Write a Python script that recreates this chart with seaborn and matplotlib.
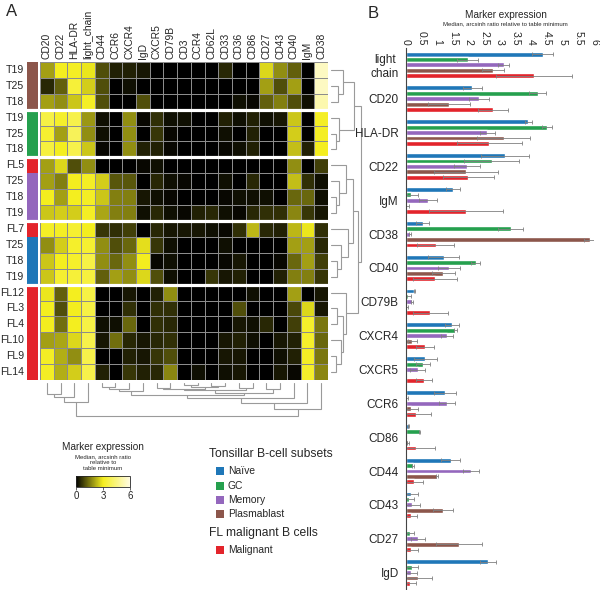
import numpy as np
import pandas as pd
import matplotlib
matplotlib.use("Agg")
import matplotlib.pyplot as plt
import seaborn as sns
from matplotlib.colors import LinearSegmentedColormap, ListedColormap
from matplotlib.patches import Rectangle

# ---------------- data ----------------
heat_markers = ["CD20", "CD22", "HLA-DR", "light_chain", "CD44", "CCR6", "CXCR4", "IgD",
                "CXCR5", "CD79B", "CD3", "CCR4", "CD62L", "CD33", "CD36", "CD86", "CD27",
                "CD43", "CD40", "IgM", "CD38"]
row_labels = ["T19", "T25", "T18", "T19", "T25", "T18", "FL5", "T25", "T18", "T19",
              "FL7", "T25", "T18", "T19", "FL12", "FL3", "FL4", "FL10", "FL9", "FL14"]
row_groups = ["Plasmablast"] * 3 + ["GC"] * 3 + ["Malignant"] + ["Memory"] * 3 + \
             ["Malignant"] + ["Naïve"] * 3 + ["Malignant"] * 6
group_breaks = [3, 6, 10, 14]

heat_values = [
    [2.0, 3.0, 3.1, 2.9, 1.0, 0.4, 0.4, 0.3, 0.0, 0.0, 0.0, 0.0, 0.0, 0.5, 0.0, 0.0, 2.7, 1.8, 1.2, 0.0, 5.5],
    [0.5, 1.2, 3.4, 2.6, 1.0, 0.0, 0.2, 0.0, 0.0, 0.0, 0.0, 0.0, 0.0, 0.0, 0.0, 0.0, 2.0, 1.0, 2.0, 0.0, 5.5],
    [2.0, 1.8, 2.5, 3.1, 1.0, 0.0, 0.0, 1.0, 0.0, 0.0, 0.0, 0.0, 0.0, 0.0, 0.2, 0.1, 1.2, 1.6, 1.0, 0.2, 5.2],
    [3.6, 3.2, 3.7, 1.9, 0.2, 0.0, 1.8, 0.1, 0.6, 0.2, 0.2, 0.0, 0.0, 0.4, 0.2, 0.4, 0.2, 0.3, 2.5, 0.0, 3.1],
    [3.3, 2.0, 3.9, 1.8, 0.2, 0.0, 1.8, 0.0, 0.7, 0.1, 0.0, 0.0, 0.0, 0.2, 0.0, 0.4, 0.0, 0.0, 2.6, 0.0, 3.1],
    [3.5, 3.0, 3.7, 2.5, 0.1, 0.0, 1.8, 0.4, 0.4, 0.1, 0.0, 0.0, 0.0, 0.1, 0.2, 0.4, 0.0, 0.0, 2.4, 0.4, 3.0],
    [2.0, 2.7, 1.0, 1.8, 0.0, 0.0, 0.0, 0.1, 0.2, 0.0, 0.0, 0.0, 0.0, 0.0, 0.0, 0.0, 0.0, 0.0, 1.8, 0.0, 0.8],
    [2.0, 1.6, 3.0, 3.1, 2.6, 1.1, 1.1, 0.0, 0.5, 0.2, 0.1, 0.0, 0.0, 0.2, 0.0, 0.5, 0.0, 0.0, 2.4, 0.6, 0.2],
    [3.0, 2.0, 3.0, 3.1, 2.5, 1.6, 1.6, 0.3, 0.2, 0.1, 0.0, 0.0, 0.0, 0.1, 0.2, 0.2, 0.2, 0.0, 1.3, 1.3, 0.2],
    [2.5, 2.6, 2.6, 3.1, 2.1, 1.6, 1.6, 0.2, 0.5, 0.2, 0.1, 0.4, 0.5, 0.2, 0.1, 0.5, 0.6, 0.6, 1.7, 0.7, 0.3],
    [3.1, 3.1, 3.3, 3.0, 0.7, 0.6, 0.8, 0.0, 0.5, 0.3, 0.3, 0.3, 0.2, 0.1, 0.6, 2.3, 0.5, 0.4, 2.3, 2.9, 0.6],
    [1.8, 2.6, 3.2, 3.3, 1.8, 1.0, 1.3, 2.8, 0.7, 0.2, 0.0, 0.0, 0.0, 0.2, 0.0, 0.0, 0.0, 0.0, 2.0, 2.0, 0.5],
    [2.5, 3.0, 3.2, 3.6, 1.8, 1.3, 1.8, 3.0, 0.1, 0.2, 0.0, 0.0, 0.0, 0.1, 0.3, 0.0, 0.0, 0.1, 1.3, 2.0, 0.8],
    [2.5, 3.3, 3.4, 3.5, 1.2, 2.0, 1.8, 2.7, 1.0, 0.2, 0.0, 0.0, 0.7, 0.3, 0.4, 0.0, 0.0, 0.4, 1.6, 1.6, 0.7],
    [2.9, 1.2, 3.0, 3.6, 0.0, 0.0, 0.3, 0.0, 0.4, 1.8, 0.0, 0.0, 0.0, 0.0, 0.0, 0.2, 0.0, 0.0, 2.0, 0.0, 0.3],
    [3.0, 1.0, 3.0, 3.6, 0.0, 0.0, 0.6, 0.0, 0.6, 0.6, 0.0, 0.0, 0.0, 0.0, 1.0, 0.0, 0.0, 0.0, 0.9, 2.7, 0.3],
    [3.0, 1.4, 3.0, 3.6, 0.2, 0.2, 1.3, 0.0, 0.6, 0.5, 0.0, 0.0, 0.0, 0.0, 0.3, 0.2, 0.5, 0.0, 0.8, 3.2, 1.5],
    [2.0, 2.1, 2.7, 3.7, 0.3, 1.4, 0.5, 0.3, 0.5, 0.6, 0.0, 0.0, 0.0, 0.3, 0.4, 0.2, 0.0, 0.3, 0.4, 3.2, 1.3],
    [3.1, 2.2, 1.8, 3.7, 0.0, 0.0, 0.4, 0.3, 0.7, 1.0, 0.0, 0.0, 0.0, 0.3, 0.3, 0.0, 0.0, 0.2, 0.4, 3.1, 1.5],
    [3.1, 2.2, 2.6, 3.7, 0.4, 0.0, 0.7, 0.4, 0.5, 1.7, 0.0, 0.2, 0.0, 0.2, 0.3, 0.0, 0.0, 0.3, 0.1, 3.2, 1.7],
]

# dendrogram merges (child a, child b, merge height); ids >= n are earlier merges
row_merges = [(1, 2, 7), (0, 20, 12), (4, 5, 5), (3, 22, 8), (21, 23, 23),
              (8, 9, 5), (7, 25, 8), (6, 26, 15), (12, 13, 6), (11, 28, 10),
              (10, 29, 17), (27, 30, 22), (18, 19, 5), (17, 32, 10), (15, 16, 6),
              (34, 33, 12), (14, 35, 15), (31, 36, 27), (24, 37, 30)]
col_merges = [(0, 1, 11), (21, 2, 14), (22, 3, 19), (10, 11, 2), (12, 13, 3),
              (24, 25, 4), (8, 9, 5), (27, 26, 6), (14, 15, 5), (28, 29, 7),
              (16, 17, 6), (30, 31, 10), (4, 5, 4), (33, 6, 6), (34, 7, 8),
              (35, 32, 12), (36, 18, 15), (37, 19, 20), (38, 20, 26), (23, 39, 33)]

bar_markers = ["light\nchain", "CD20", "HLA-DR", "CD22", "IgM", "CD38", "CD40", "CD79B",
               "CXCR4", "CXCR5", "CCR6", "CD86", "CD44", "CD43", "CD27", "IgD"]
subsets = ["Naïve", "GC", "Memory", "Plasmablast", "Malignant"]
naive_med = [4.36, 2.12, 3.90, 3.17, 1.50, 0.54, 1.21, 0.28, 1.48, 0.63, 1.24, 0.10, 1.43, 0.16, 0.01, 2.62]
gc_med = [1.97, 4.20, 4.49, 2.74, 0.17, 3.34, 2.23, 0.07, 1.58, 0.55, 0.04, 0.44, 0.24, 0.11, 0.13, 0.19]
memory_med = [3.12, 2.34, 2.60, 1.95, 0.70, 0.14, 1.37, 0.19, 1.31, 0.38, 1.31, 0.01, 2.09, 0.19, 0.40, 0.18]
plasma_med = [2.78, 1.38, 3.12, 1.92, 0.03, 5.87, 1.20, 0.03, 0.21, 0.00, 0.18, 0.08, 1.01, 1.18, 1.69, 0.39]
malig_med = [4.09, 2.78, 2.66, 2.00, 1.92, 0.96, 0.92, 0.79, 0.62, 0.58, 0.34, 0.33, 0.27, 0.16, 0.16, 0.15]
naive_err = [0.34, 0.30, 0.11, 0.77, 0.23, 0.20, 0.50, 0.03, 0.23, 0.37, 0.35, 0.02, 0.29, 0.23, 0.00, 0.25]
gc_err = [0.32, 0.26, 0.16, 0.88, 0.21, 0.39, 0.14, 0.10, 0.04, 0.22, 0.03, 0.03, 0.03, 0.16, 0.14, 0.20]
memory_err = [0.17, 0.32, 0.23, 0.41, 0.29, 0.03, 0.35, 0.03, 0.19, 0.23, 0.25, 0.01, 0.25, 0.27, 0.23, 0.17]
plasma_err = [0.34, 0.67, 0.85, 1.03, 0.09, 0.18, 0.36, 0.04, 0.14, 0.00, 0.21, 0.03, 0.03, 0.32, 0.73, 0.46]
malig_err = [1.20, 0.49, 1.03, 0.82, 1.19, 0.59, 0.70, 0.55, 0.29, 0.25, 0.48, 0.59, 0.29, 0.19, 0.22, 0.17]
bar_ticks = [0, 0.5, 1, 1.5, 2, 2.5, 3, 3.5, 4, 4.5, 5, 5.5, 6]

subset_colors = {"Naïve": "#1f77b8", "GC": "#25a04e", "Memory": "#9467bd",
                 "Plasmablast": "#8c564b", "Malignant": "#e3242b"}

# ---------------- style ----------------
sns.set_style("white")
plt.rcParams["font.family"] = ["Liberation Sans", "DejaVu Sans"]

W, H = 600, 590
fig = plt.figure(figsize=(6, 5.9), dpi=100)


def rect(l, t, r, b):
    return [l / W, 1 - b / H, (r - l) / W, (b - t) / H]


def fx(x):
    return x / W


def fy(y):
    return 1 - y / H


heat_cmap = LinearSegmentedColormap.from_list(
    "blk_yel", [(0, "#000000"), (0.5, "#f4ee1e"), (1.0, "#fffbe2")])

# ---------------- heatmap ----------------
ax_h = fig.add_axes(rect(40, 62, 328, 380))
heat_df = pd.DataFrame(heat_values, columns=heat_markers)
sns.heatmap(heat_df, ax=ax_h, cmap=heat_cmap, vmin=0, vmax=6, cbar=False,
            linewidths=0.4, linecolor="#8c8c8c", xticklabels=heat_markers, yticklabels=False)
ax_h.xaxis.tick_top()
ax_h.tick_params(axis="x", top=True, bottom=False, labeltop=True, labelbottom=False,
                 length=0, pad=2, labelsize=7.4, labelrotation=90)
for t in ax_h.get_xticklabels():
    t.set_va("bottom")
for b in group_breaks:
    ax_h.axhline(b, color="white", lw=2.3)

# row color bar
ax_r = fig.add_axes(rect(27, 62, 38, 380))
codes = [subsets.index(g) for g in row_groups]
sns.heatmap(pd.DataFrame({"g": codes}), ax=ax_r, cmap=ListedColormap([subset_colors[s] for s in subsets]),
            vmin=-0.5, vmax=4.5, cbar=False, xticklabels=False, yticklabels=row_labels)
ax_r.tick_params(axis="y", length=0, pad=2, labelsize=7.6, labelrotation=0)
for b in group_breaks:
    ax_r.axhline(b, color="white", lw=2.3)


# ---------------- dendrograms ----------------
def draw_dendro(ax, merges, n, horizontal):
    pos = {i: i + 0.5 for i in range(n)}
    hgt = {i: 0.0 for i in range(n)}
    for k, (a, b, h) in enumerate(merges):
        xs = [pos[a], pos[a], pos[b], pos[b]]
        hs = [hgt[a], h, h, hgt[b]]
        if horizontal:
            ax.plot(hs, xs, color="#9a9a9a", lw=0.8, solid_joinstyle="miter")
        else:
            ax.plot(xs, hs, color="#9a9a9a", lw=0.8, solid_joinstyle="miter")
        pos[n + k] = (pos[a] + pos[b]) / 2
        hgt[n + k] = h
    ax.axis("off")


ax_rd = fig.add_axes(rect(331, 62, 363, 380))
draw_dendro(ax_rd, row_merges, len(row_labels), True)
ax_rd.set_ylim(len(row_labels), 0)
ax_rd.set_xlim(0, 32)

ax_cd = fig.add_axes(rect(40, 383, 328, 418))
draw_dendro(ax_cd, col_merges, len(heat_markers), False)
ax_cd.set_xlim(0, len(heat_markers))
ax_cd.set_ylim(35, 0)

# ---------------- colour bar legend ----------------
ax_cb = fig.add_axes(rect(76, 476, 130, 487))
sm = plt.cm.ScalarMappable(cmap=heat_cmap, norm=plt.Normalize(0, 6))
cb = fig.colorbar(sm, cax=ax_cb, orientation="horizontal", ticks=[0, 3, 6])
cb.outline.set_linewidth(0.6)
ax_cb.tick_params(labelsize=7, length=2, width=0.5, pad=1)
fig.text(fx(103), fy(447), "Marker expression", ha="center", va="center", fontsize=7.2)
fig.text(fx(103), fy(463), "Median, arcsinh ratio\nrelative to\ntable minimum",
         ha="center", va="center", fontsize=4.3, linespacing=1.25)

# ---------------- category legend ----------------
fig.text(fx(209), fy(454), "Tonsillar B-cell subsets", ha="left", va="center", fontsize=8.7)
item_y = [471, 486, 500, 514]
for s, yy in zip(subsets[:4], item_y):
    fig.add_artist(Rectangle((fx(216), fy(yy + 4)), 8 / W, 8 / H, transform=fig.transFigure,
                             facecolor=subset_colors[s], edgecolor="none"))
    fig.text(fx(228), fy(yy), s, ha="left", va="center", fontsize=7.4)
fig.text(fx(209), fy(533), "FL malignant B cells", ha="left", va="center", fontsize=8.7)
fig.add_artist(Rectangle((fx(216), fy(550 + 4)), 8 / W, 8 / H, transform=fig.transFigure,
                         facecolor=subset_colors["Malignant"], edgecolor="none"))
fig.text(fx(228), fy(550), "Malignant", ha="left", va="center", fontsize=7.4)

# ---------------- bar chart ----------------
ax_b = fig.add_axes(rect(405.7, 48, 594, 589.5))
meds = [naive_med, gc_med, memory_med, plasma_med, malig_med]
errs = [naive_err, gc_err, memory_err, plasma_err, malig_err]
bar_df = pd.DataFrame({
    "marker": np.repeat([bar_markers], len(subsets), axis=0).ravel(),
    "subset": np.repeat(subsets, len(bar_markers)),
    "value": np.concatenate(meds),
    "err": np.concatenate(errs),
})
sns.barplot(data=bar_df, y="marker", x="value", hue="subset", order=bar_markers,
            hue_order=subsets, palette=subset_colors, orient="h", width=0.8, gap=0.1,
            errorbar=None, legend=False, ax=ax_b, saturation=1)
offsets = (np.arange(len(subsets)) - (len(subsets) - 1) / 2) * 0.8 / len(subsets)
for j, s in enumerate(subsets):
    ypos = np.arange(len(bar_markers)) + offsets[j]
    ax_b.errorbar(meds[j], ypos, xerr=errs[j], fmt="none", ecolor="#808080",
                  elinewidth=0.6, capsize=1.2, capthick=0.6)
ax_b.set_xlim(0, 6)
ax_b.set_ylim(len(bar_markers) - 0.5, -0.5)
ax_b.set_xticks(bar_ticks)
ax_b.set_xticklabels([f"{t:g}" for t in bar_ticks])
ax_b.xaxis.tick_top()
ax_b.tick_params(axis="x", top=True, bottom=False, labeltop=True, labelbottom=False,
                 length=0, pad=2, labelsize=7.6, labelrotation=-90)
for t in ax_b.get_xticklabels():
    t.set_va("bottom")
ax_b.tick_params(axis="y", length=0, pad=5, labelsize=8.5)
ax_b.set_xlabel("")
ax_b.set_ylabel("")
for side in ["top", "right", "bottom"]:
    ax_b.spines[side].set_visible(False)
ax_b.spines["left"].set_linewidth(0.8)
ax_b.spines["left"].set_color("#444444")
for t in ax_b.get_yticklabels():
    t.set_ha("right")
    t.set_multialignment("center")

fig.text(fx(506), fy(15), "Marker expression", ha="center", va="center", fontsize=7.2)
fig.text(fx(505), fy(24), "Median, arcsinh ratio relative to table minimum",
         ha="center", va="center", fontsize=4.3)

# panel letters
fig.text(fx(12), fy(12), "A", ha="center", va="center", fontsize=12)
fig.text(fx(373), fy(14), "B", ha="center", va="center", fontsize=12)

fig.savefig("out.png", dpi=100)
